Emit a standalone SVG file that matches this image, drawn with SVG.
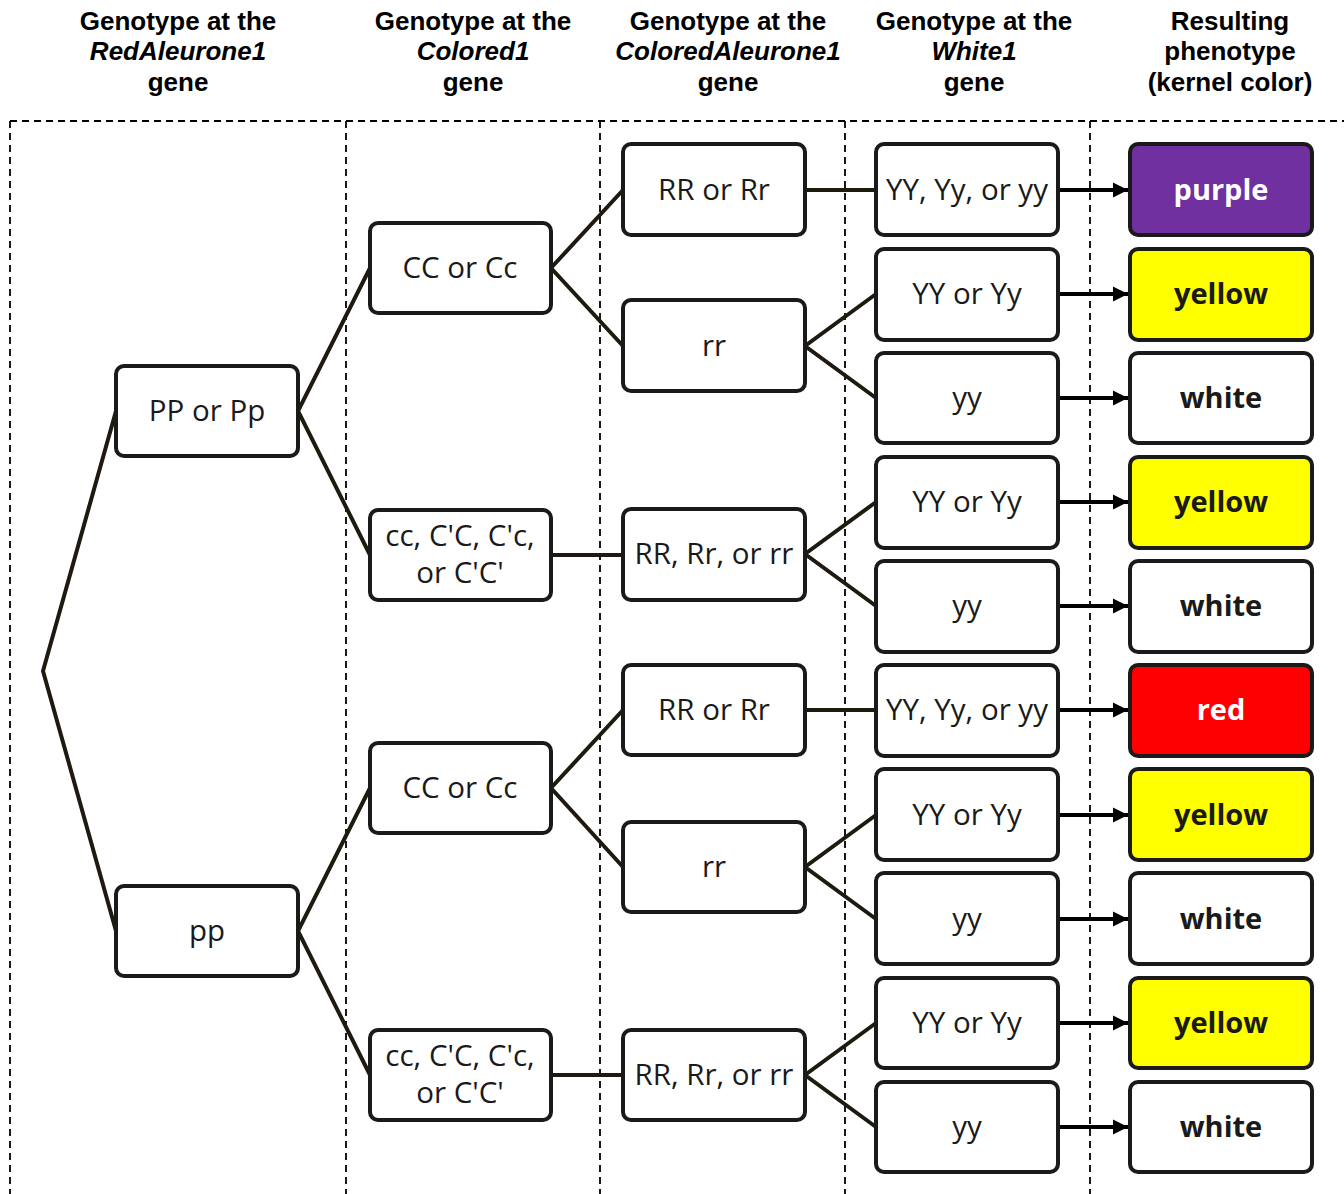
<svg xmlns="http://www.w3.org/2000/svg" width="1344" height="1194" viewBox="0 0 1344 1194">
<defs>
<style>
.hdr{font-family:"Liberation Sans",Arial,sans-serif;font-weight:bold;font-size:26px;text-anchor:middle;fill:#000}
.it{font-style:italic}
.grid{stroke:#000;stroke-width:1.8;stroke-dasharray:7,5;fill:none}
.box{fill:#fff;stroke:#1a1a1a;stroke-width:4}
.t{font-family:"Open Sans","DejaVu Sans",sans-serif;font-size:29.5px;text-anchor:middle;fill:#1a1a1a}
.p{font-family:"Open Sans","DejaVu Sans",sans-serif;font-size:29px;font-weight:bold;text-anchor:middle;fill:#1a1a1a}
.w{fill:#fff}
.c{stroke:#1e1a10;stroke-width:4;fill:none}
.a{stroke:#000;stroke-width:4;fill:none;marker-end:url(#ah)}
</style>
<marker id="ah" viewBox="0 0 10 10" refX="10" refY="5" markerWidth="3.8" markerHeight="3.8" orient="auto" markerUnits="strokeWidth">
<path d="M0,0 L10,5 L0,10 z" fill="#000"/>
</marker>
</defs>
<rect width="1344" height="1194" fill="#fff"/>
<g id="headers">
<text class="hdr" x="178" y="30">Genotype at the</text>
<text class="hdr it" x="178" y="60">RedAleurone1</text>
<text class="hdr" x="178" y="91">gene</text>
<text class="hdr" x="473" y="30">Genotype at the</text>
<text class="hdr it" x="473" y="60">Colored1</text>
<text class="hdr" x="473" y="91">gene</text>
<text class="hdr" x="728" y="30">Genotype at the</text>
<text class="hdr it" x="728" y="60">ColoredAleurone1</text>
<text class="hdr" x="728" y="91">gene</text>
<text class="hdr" x="974" y="30">Genotype at the</text>
<text class="hdr it" x="974" y="60">White1</text>
<text class="hdr" x="974" y="91">gene</text>
<text class="hdr" x="1230" y="30">Resulting</text>
<text class="hdr" x="1230" y="60">phenotype</text>
<text class="hdr" x="1230" y="91">(kernel color)</text>
</g>
<g id="grid">
<path class="grid" d="M10,121 H1344 M10,121 V1194 M346,121 V1194 M600,121 V1194 M845,121 V1194 M1090,121 V1194"/>
</g>
<g id="connectors">
<path class="c" d="M116,411 L43,671 L116,931"/>
<path class="c" d="M370,268 L298,411 L370,555"/>
<path class="c" d="M370,788 L298,931 L370,1075"/>
<path class="c" d="M623,190 L551,268 L623,346"/>
<path class="c" d="M551,555 L623,555"/>
<path class="c" d="M623,710 L551,788 L623,867"/>
<path class="c" d="M551,1075 L623,1075"/>
<path class="c" d="M805,190 L876,190"/>
<path class="c" d="M876,294 L805,346 L876,398"/>
<path class="c" d="M876,502 L805,554 L876,606"/>
<path class="c" d="M805,710 L876,710"/>
<path class="c" d="M876,815 L805,867 L876,919"/>
<path class="c" d="M876,1023 L805,1075 L876,1127"/>
<path class="a" d="M1058,190 H1128"/>
<path class="a" d="M1058,294 H1128"/>
<path class="a" d="M1058,398 H1128"/>
<path class="a" d="M1058,502 H1128"/>
<path class="a" d="M1058,606 H1128"/>
<path class="a" d="M1058,710 H1128"/>
<path class="a" d="M1058,815 H1128"/>
<path class="a" d="M1058,919 H1128"/>
<path class="a" d="M1058,1023 H1128"/>
<path class="a" d="M1058,1127 H1128"/>
</g>
<g id="n-PP"><rect class="box" x="116" y="366" width="182" height="90" rx="8"/><text class="t" x="207" y="421">PP or Pp</text></g>
<g id="n-pp"><rect class="box" x="116" y="886" width="182" height="90" rx="8"/><text class="t" x="207" y="941">pp</text></g>
<g id="n-CC1"><rect class="box" x="370" y="223" width="181" height="90" rx="8"/><text class="t" x="460" y="278">CC or Cc</text></g>
<g id="n-cc1"><rect class="box" x="370" y="510" width="181" height="90" rx="8"/><text class="t" x="460" y="546">cc, C'C, C'c,</text><text class="t" x="460" y="583">or C'C'</text></g>
<g id="n-CC2"><rect class="box" x="370" y="743" width="181" height="90" rx="8"/><text class="t" x="460" y="798">CC or Cc</text></g>
<g id="n-cc2"><rect class="box" x="370" y="1030" width="181" height="90" rx="8"/><text class="t" x="460" y="1066">cc, C'C, C'c,</text><text class="t" x="460" y="1103">or C'C'</text></g>
<g id="n-R1"><rect class="box" x="623" y="144" width="182" height="91" rx="8"/><text class="t" x="714" y="200">RR or Rr</text></g>
<g id="n-r1"><rect class="box" x="623" y="300" width="182" height="91" rx="8"/><text class="t" x="714" y="356">rr</text></g>
<g id="n-Rr1"><rect class="box" x="623" y="509" width="182" height="91" rx="8"/><text class="t" x="714" y="564">RR, Rr, or rr</text></g>
<g id="n-R2"><rect class="box" x="623" y="665" width="182" height="90" rx="8"/><text class="t" x="714" y="720">RR or Rr</text></g>
<g id="n-r2"><rect class="box" x="623" y="822" width="182" height="90" rx="8"/><text class="t" x="714" y="877">rr</text></g>
<g id="n-Rr2"><rect class="box" x="623" y="1030" width="182" height="90" rx="8"/><text class="t" x="714" y="1085">RR, Rr, or rr</text></g>
<g id="n-Y1"><rect class="box" x="876" y="144" width="182" height="91" rx="8"/><text class="t" x="967" y="200">YY, Yy, or yy</text></g>
<g id="n-Y2"><rect class="box" x="876" y="249" width="182" height="91" rx="8"/><text class="t" x="967" y="304">YY or Yy</text></g>
<g id="n-Y3"><rect class="box" x="876" y="353" width="182" height="90" rx="8"/><text class="t" x="967" y="408">yy</text></g>
<g id="n-Y4"><rect class="box" x="876" y="457" width="182" height="91" rx="8"/><text class="t" x="967" y="512">YY or Yy</text></g>
<g id="n-Y5"><rect class="box" x="876" y="561" width="182" height="91" rx="8"/><text class="t" x="967" y="616">yy</text></g>
<g id="n-Y6"><rect class="box" x="876" y="665" width="182" height="91" rx="8"/><text class="t" x="967" y="720">YY, Yy, or yy</text></g>
<g id="n-Y7"><rect class="box" x="876" y="769" width="182" height="91" rx="8"/><text class="t" x="967" y="825">YY or Yy</text></g>
<g id="n-Y8"><rect class="box" x="876" y="873" width="182" height="91" rx="8"/><text class="t" x="967" y="929">yy</text></g>
<g id="n-Y9"><rect class="box" x="876" y="978" width="182" height="90" rx="8"/><text class="t" x="967" y="1033">YY or Yy</text></g>
<g id="n-Y10"><rect class="box" x="876" y="1082" width="182" height="90" rx="8"/><text class="t" x="967" y="1137">yy</text></g>
<g id="p-1"><rect class="box" x="1130" y="144" width="182" height="91" rx="8" style="fill:#7030a0"/><text class="p w" x="1221" y="200">purple</text></g>
<g id="p-2"><rect class="box" x="1130" y="249" width="182" height="91" rx="8" style="fill:#ffff00"/><text class="p" x="1221" y="304">yellow</text></g>
<g id="p-3"><rect class="box" x="1130" y="353" width="182" height="90" rx="8"/><text class="p" x="1221" y="408">white</text></g>
<g id="p-4"><rect class="box" x="1130" y="457" width="182" height="91" rx="8" style="fill:#ffff00"/><text class="p" x="1221" y="512">yellow</text></g>
<g id="p-5"><rect class="box" x="1130" y="561" width="182" height="91" rx="8"/><text class="p" x="1221" y="616">white</text></g>
<g id="p-6"><rect class="box" x="1130" y="665" width="182" height="91" rx="8" style="fill:#ff0000"/><text class="p w" x="1221" y="720">red</text></g>
<g id="p-7"><rect class="box" x="1130" y="769" width="182" height="91" rx="8" style="fill:#ffff00"/><text class="p" x="1221" y="825">yellow</text></g>
<g id="p-8"><rect class="box" x="1130" y="873" width="182" height="91" rx="8"/><text class="p" x="1221" y="929">white</text></g>
<g id="p-9"><rect class="box" x="1130" y="978" width="182" height="90" rx="8" style="fill:#ffff00"/><text class="p" x="1221" y="1033">yellow</text></g>
<g id="p-10"><rect class="box" x="1130" y="1082" width="182" height="90" rx="8"/><text class="p" x="1221" y="1137">white</text></g>
</svg>
